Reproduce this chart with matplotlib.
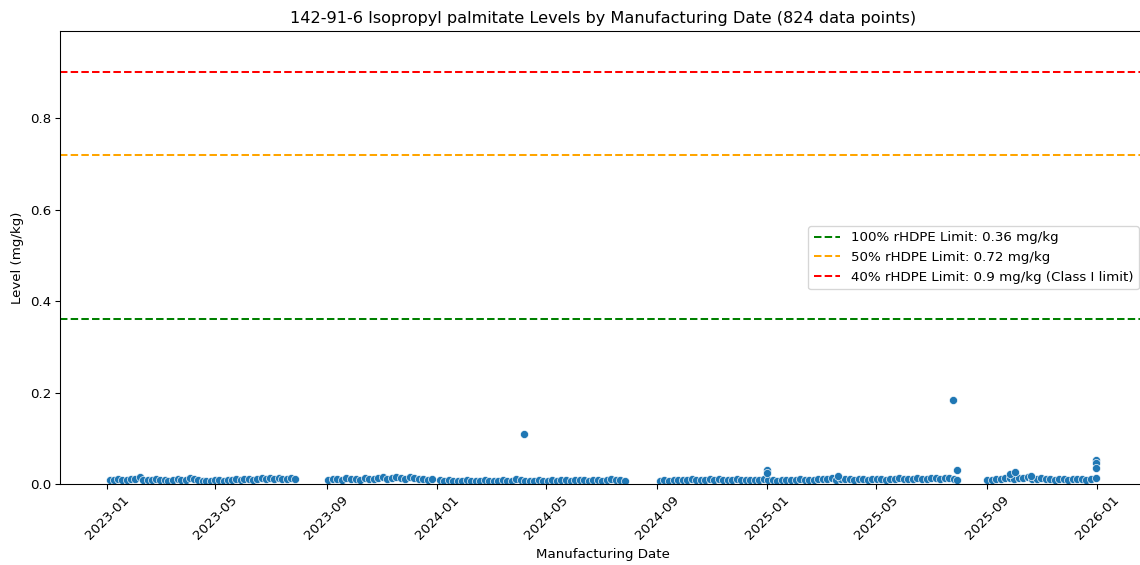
import pandas as pd
import matplotlib
matplotlib.use("Agg")
import matplotlib.pyplot as plt
import matplotlib.dates as mdates
import seaborn as sns

# manufacturing dates and levels (mg/kg)
dates_2023a = ["2023-01-04", "2023-01-09", "2023-01-13", "2023-01-18", "2023-01-23", "2023-01-27",
               "2023-02-01", "2023-02-06", "2023-02-10", "2023-02-15", "2023-02-20", "2023-02-24",
               "2023-03-01", "2023-03-06", "2023-03-10", "2023-03-15", "2023-03-20", "2023-03-24",
               "2023-03-29", "2023-04-03", "2023-04-07", "2023-04-12", "2023-04-17", "2023-04-21",
               "2023-04-26", "2023-05-01", "2023-05-05", "2023-05-10", "2023-05-15", "2023-05-19",
               "2023-05-24", "2023-05-29", "2023-06-02", "2023-06-07", "2023-06-12", "2023-06-16",
               "2023-06-21", "2023-06-26", "2023-06-30", "2023-07-05", "2023-07-10", "2023-07-14",
               "2023-07-19", "2023-07-24", "2023-07-28"]
levels_2023a = [0.010, 0.009, 0.011, 0.010, 0.009, 0.011,
                0.012, 0.015, 0.010, 0.009, 0.010, 0.011,
                0.010, 0.009, 0.008, 0.010, 0.011, 0.009,
                0.010, 0.014, 0.011, 0.009, 0.008, 0.007,
                0.008, 0.009, 0.010, 0.008, 0.009, 0.010,
                0.011, 0.010, 0.012, 0.011, 0.010, 0.012,
                0.013, 0.011, 0.014, 0.012, 0.013, 0.011,
                0.012, 0.013, 0.011]

dates_2023b = ["2023-09-03", "2023-09-08", "2023-09-13", "2023-09-18", "2023-09-23", "2023-09-28",
               "2023-10-03", "2023-10-08", "2023-10-13", "2023-10-18", "2023-10-23", "2023-10-28",
               "2023-11-02", "2023-11-07", "2023-11-12", "2023-11-17", "2023-11-22", "2023-11-27",
               "2023-12-02", "2023-12-07", "2023-12-12", "2023-12-17", "2023-12-22", "2023-12-27"]
levels_2023b = [0.009, 0.011, 0.012, 0.010, 0.013, 0.011,
                0.012, 0.010, 0.014, 0.012, 0.011, 0.013,
                0.015, 0.012, 0.014, 0.016, 0.013, 0.012,
                0.015, 0.013, 0.011, 0.012, 0.010, 0.011]

dates_2024a = ["2024-01-04", "2024-01-09", "2024-01-14", "2024-01-19", "2024-01-24", "2024-01-29",
               "2024-02-03", "2024-02-08", "2024-02-13", "2024-02-18", "2024-02-23", "2024-02-28",
               "2024-03-04", "2024-03-09", "2024-03-14", "2024-03-19", "2024-03-24", "2024-03-29",
               "2024-04-03", "2024-04-08", "2024-04-13", "2024-04-18", "2024-04-23", "2024-04-28",
               "2024-05-03", "2024-05-08", "2024-05-13", "2024-05-18", "2024-05-23", "2024-05-28",
               "2024-06-02", "2024-06-07", "2024-06-12", "2024-06-17", "2024-06-22", "2024-06-27",
               "2024-07-02", "2024-07-07", "2024-07-12", "2024-07-17", "2024-07-22", "2024-07-27"]
levels_2024a = [0.009, 0.008, 0.009, 0.008, 0.007, 0.008,
                0.009, 0.008, 0.007, 0.008, 0.009, 0.008,
                0.007, 0.008, 0.009, 0.008, 0.008, 0.012,
                0.009, 0.008, 0.007, 0.008, 0.009, 0.008,
                0.007, 0.009, 0.008, 0.010, 0.009, 0.008,
                0.009, 0.010, 0.009, 0.008, 0.009, 0.010,
                0.008, 0.009, 0.011, 0.010, 0.009, 0.008]

dates_2024b = ["2024-09-04", "2024-09-09", "2024-09-14", "2024-09-19", "2024-09-24", "2024-09-29",
               "2024-10-04", "2024-10-09", "2024-10-14", "2024-10-19", "2024-10-24", "2024-10-29",
               "2024-11-03", "2024-11-08", "2024-11-13", "2024-11-18", "2024-11-23", "2024-11-28",
               "2024-12-03", "2024-12-08", "2024-12-13", "2024-12-18", "2024-12-23", "2024-12-28"]
levels_2024b = [0.008, 0.009, 0.008, 0.009, 0.010, 0.009,
                0.010, 0.011, 0.010, 0.009, 0.010, 0.011,
                0.010, 0.011, 0.010, 0.009, 0.010, 0.011,
                0.010, 0.009, 0.010, 0.009, 0.010, 0.011]

dates_2025a = ["2025-01-02", "2025-01-07", "2025-01-12", "2025-01-17", "2025-01-22", "2025-01-27",
               "2025-02-01", "2025-02-06", "2025-02-11", "2025-02-16", "2025-02-21", "2025-02-26",
               "2025-03-03", "2025-03-08", "2025-03-13", "2025-03-18", "2025-03-23", "2025-03-28",
               "2025-04-02", "2025-04-07", "2025-04-12", "2025-04-17", "2025-04-22", "2025-04-27",
               "2025-05-02", "2025-05-07", "2025-05-12", "2025-05-17", "2025-05-22", "2025-05-27",
               "2025-06-01", "2025-06-06", "2025-06-11", "2025-06-16", "2025-06-21", "2025-06-26",
               "2025-07-01", "2025-07-06", "2025-07-11", "2025-07-16", "2025-07-21", "2025-07-26",
               "2025-07-30"]
levels_2025a = [0.010, 0.009, 0.008, 0.009, 0.010, 0.009,
                0.010, 0.011, 0.010, 0.009, 0.010, 0.011,
                0.012, 0.011, 0.013, 0.010, 0.011, 0.012,
                0.011, 0.010, 0.011, 0.012, 0.010, 0.011,
                0.012, 0.011, 0.010, 0.012, 0.011, 0.013,
                0.012, 0.011, 0.012, 0.013, 0.011, 0.012,
                0.013, 0.014, 0.012, 0.013, 0.014, 0.012,
                0.010]

dates_2025b = ["2025-09-01", "2025-09-06", "2025-09-11", "2025-09-16", "2025-09-21", "2025-09-26",
               "2025-10-01", "2025-10-06", "2025-10-11", "2025-10-16", "2025-10-21", "2025-10-26",
               "2025-10-31", "2025-11-05", "2025-11-10", "2025-11-15", "2025-11-20", "2025-11-25",
               "2025-11-30", "2025-12-05", "2025-12-10", "2025-12-15", "2025-12-20", "2025-12-25"]
levels_2025b = [0.009, 0.010, 0.011, 0.012, 0.014, 0.013,
                0.012, 0.014, 0.013, 0.015, 0.012, 0.011,
                0.013, 0.012, 0.011, 0.010, 0.012, 0.011,
                0.010, 0.011, 0.012, 0.011, 0.010, 0.012]

# the few higher readings
dates_high = ["2024-04-07", "2025-01-01", "2025-01-01", "2025-03-20", "2025-07-25", "2025-07-30",
              "2025-09-26", "2025-10-02", "2025-10-20", "2025-12-31", "2025-12-31", "2025-12-31",
              "2025-12-31"]
levels_high = [0.110, 0.031, 0.024, 0.017, 0.185, 0.030,
               0.022, 0.026, 0.017, 0.052, 0.046, 0.036,
               0.013]

limits = [0.36, 0.72, 0.9]
limit_labels = ["100% rHDPE Limit: 0.36 mg/kg",
                "50% rHDPE Limit: 0.72 mg/kg",
                "40% rHDPE Limit: 0.9 mg/kg (Class I limit)"]
limit_colors = ["green", "orange", "red"]

all_dates = (dates_2023a + dates_2023b + dates_2024a + dates_2024b
             + dates_2025a + dates_2025b + dates_high)
all_levels = (levels_2023a + levels_2023b + levels_2024a + levels_2024b
              + levels_2025a + levels_2025b + levels_high)
df = pd.DataFrame({"date": pd.to_datetime(all_dates), "level": all_levels})

dpi = 96.7
fig, ax = plt.subplots(figsize=(1140 / dpi, 565 / dpi), dpi=dpi)
fig.subplots_adjust(left=0.053, right=1.005, top=0.945, bottom=0.143)

sns.scatterplot(data=df, x="date", y="level", ax=ax)

for lim, lab, col in zip(limits, limit_labels, limit_colors):
    ax.axhline(lim, color=col, linestyle="--", label=lab)

ax.set_ylim(0, max(limits) * 1.1)
ax.xaxis.set_major_locator(mdates.MonthLocator(bymonth=[1, 5, 9]))
ax.xaxis.set_major_formatter(mdates.DateFormatter("%Y-%m"))
plt.setp(ax.get_xticklabels(), rotation=45)

ax.set_title("142-91-6 Isopropyl palmitate Levels by Manufacturing Date (824 data points)")
ax.set_xlabel("Manufacturing Date")
ax.set_ylabel("Level (mg/kg)")
ax.legend(loc="center right")

fig.savefig("out.png", dpi=dpi)
